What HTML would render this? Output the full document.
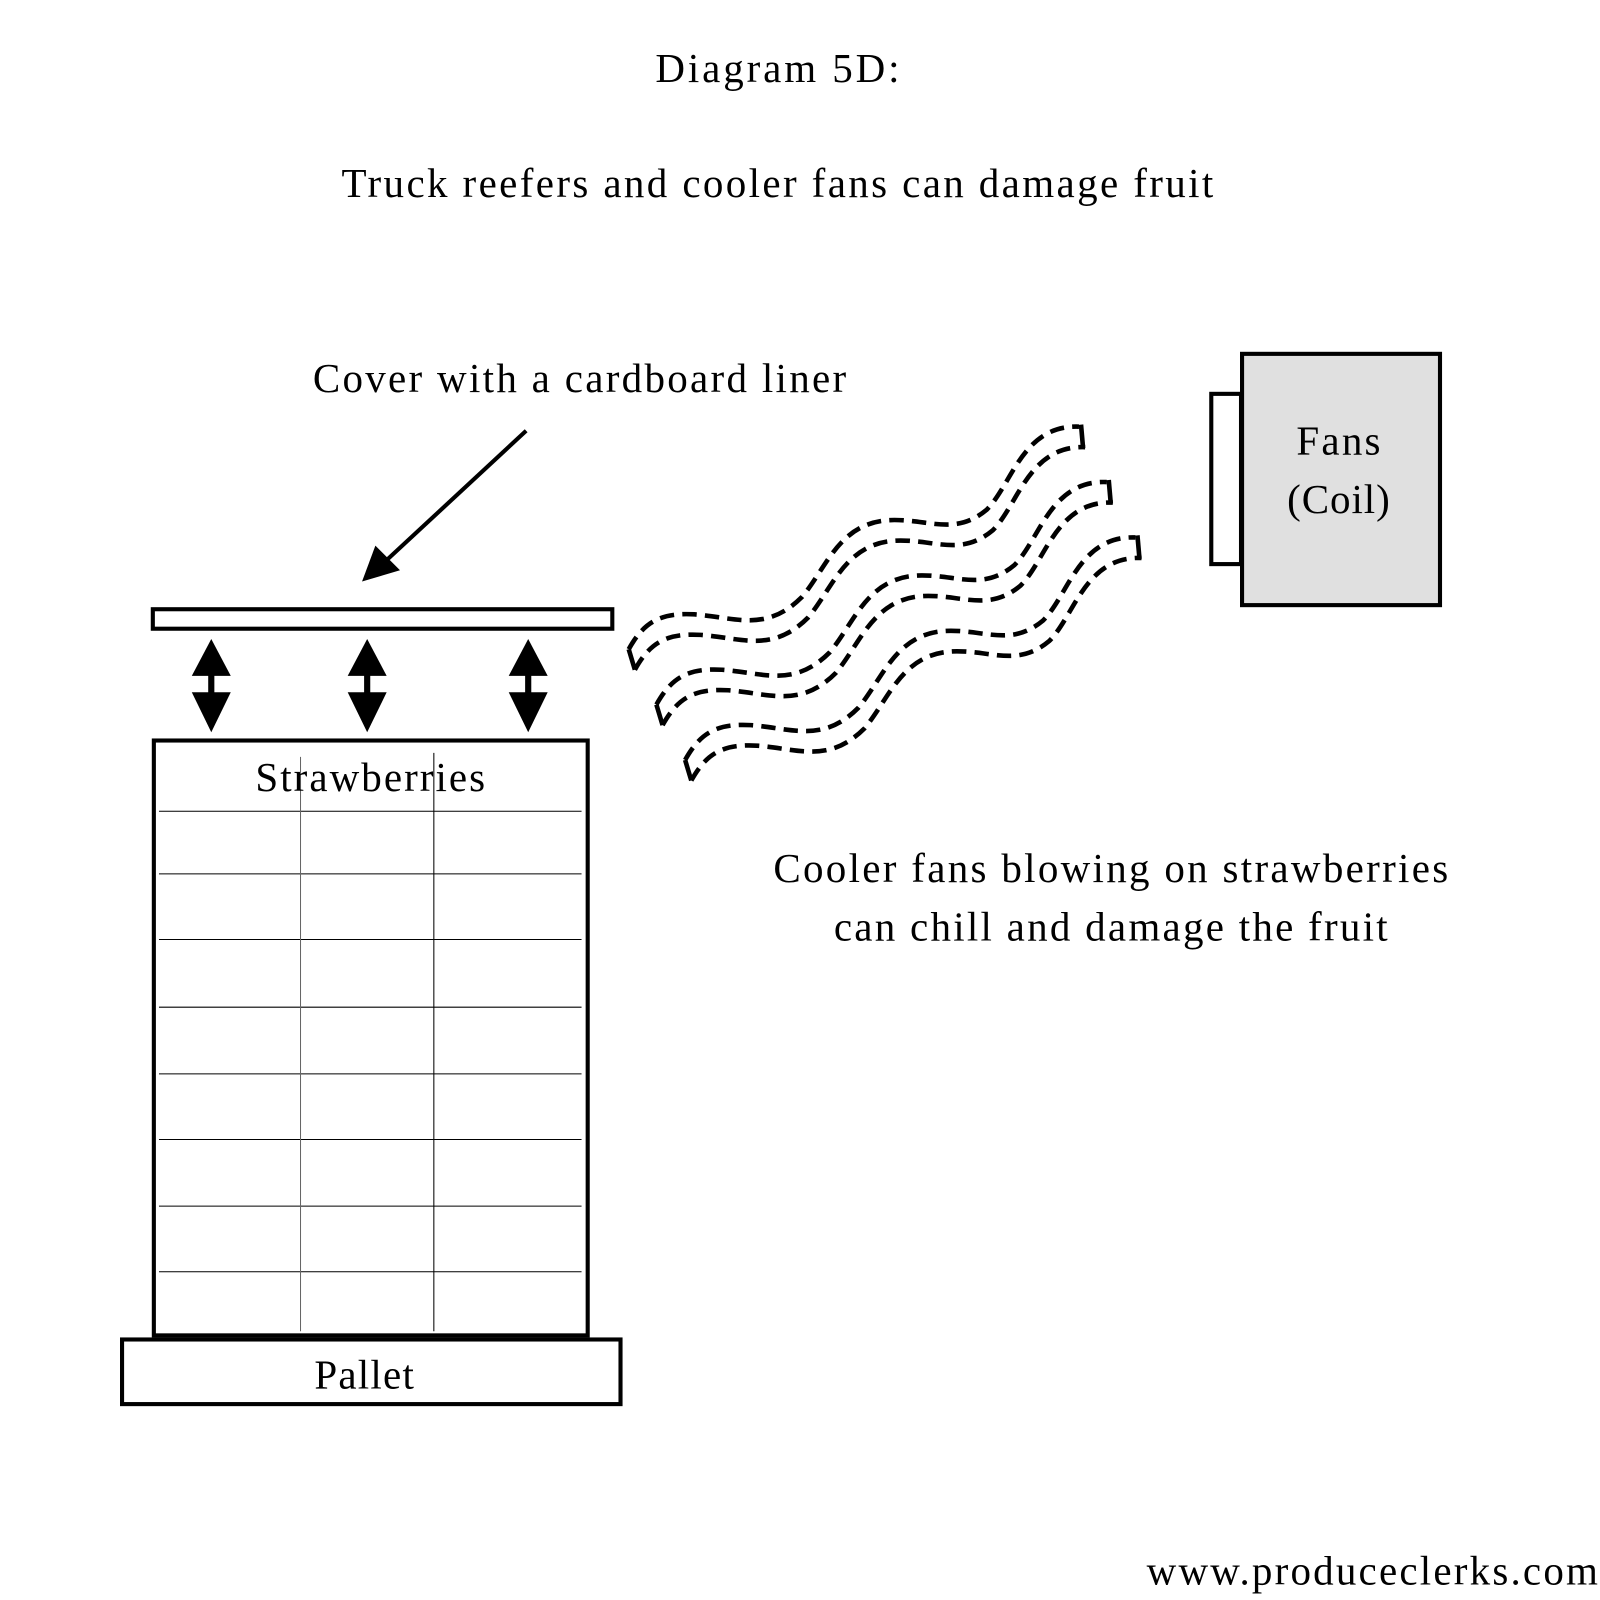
<!DOCTYPE html>
<html><head><meta charset="utf-8"><style>
html,body{margin:0;padding:0;background:#fff;}
svg{display:block;}
text{font-family:"Liberation Serif",serif;fill:#000;}
</style></head><body>
<svg width="1600" height="1600" viewBox="0 0 1560 1560" xmlns="http://www.w3.org/2000/svg">
<rect x="0" y="0" width="1560" height="1560" fill="#fff"/>
<text x="758" y="80" font-size="40" text-anchor="middle" textLength="238">Diagram 5D:</text>
<text x="758" y="192" font-size="40" text-anchor="middle" textLength="850">Truck reefers and cooler fans can damage fruit</text>
<text x="565" y="382" font-size="40" text-anchor="middle" textLength="520">Cover with a cardboard liner</text>
<line x1="513" y1="420" x2="375" y2="548" stroke="#000" stroke-width="4"/>
<polygon points="353,567 366,532 390,556" fill="#000"/>
<rect x="149" y="594" width="448" height="19" fill="#fff" stroke="#000" stroke-width="4"/>
<g fill="#000">
<g id="da"><polygon points="206,623 187,659 225,659"/><rect x="203" y="658" width="6" height="18"/><polygon points="187,675 225,675 206,714"/></g>
<use href="#da" transform="translate(152,0)"/>
<use href="#da" transform="translate(309,0)"/>
</g>
<rect x="150" y="722" width="423" height="580" fill="none" stroke="#000" stroke-width="4"/>
<g stroke="#000" stroke-width="1">
<line x1="155" y1="791" x2="567" y2="791"/><line x1="155" y1="852" x2="567" y2="852"/>
<line x1="155" y1="916" x2="567" y2="916"/><line x1="155" y1="982" x2="567" y2="982"/>
<line x1="155" y1="1047" x2="567" y2="1047"/><line x1="155" y1="1111" x2="567" y2="1111"/>
<line x1="155" y1="1176" x2="567" y2="1176"/><line x1="155" y1="1240" x2="567" y2="1240"/>
<line x1="293" y1="738" x2="293" y2="1298" stroke="#666"/><line x1="423" y1="734" x2="423" y2="1298"/>
</g>
<text x="361" y="771" font-size="40" text-anchor="middle" textLength="224">Strawberries</text>
<rect x="119" y="1306" width="486" height="63" fill="#fff" stroke="#000" stroke-width="4"/>
<text x="355" y="1354" font-size="40" text-anchor="middle" textLength="97">Pallet</text>
<rect x="1181" y="384" width="29" height="166" fill="#fff" stroke="#000" stroke-width="4"/>
<rect x="1211" y="345" width="193" height="245" fill="#e0e0e0" stroke="#000" stroke-width="4"/>
<text x="1305" y="443" font-size="40" text-anchor="middle" textLength="82">Fans</text>
<text x="1305" y="500" font-size="40" text-anchor="middle" textLength="100">(Coil)</text>
<text x="1083" y="860" font-size="40" text-anchor="middle" textLength="658">Cooler fans blowing on strawberries</text>
<text x="1083" y="917" font-size="40" text-anchor="middle" textLength="540">can chill and damage the fruit</text>
<text x="1558" y="1545" font-size="40" text-anchor="end" textLength="440">www.produceclerks.com</text>
<g id="wave" fill="none" stroke="#000" stroke-width="4.5">
<path transform="translate(-3,-10)" stroke-dasharray="14 8" d="M 616,643 C 630,618 645,607 680,609 C 720,612 750,627 785,592 C 810,562 822,517 875,517 C 910,517 935,532 965,507 C 990,482 1000,424 1055,426"/>
<path transform="translate(3,10)" stroke-dasharray="14 8" d="M 616,643 C 630,618 645,607 680,609 C 720,612 750,627 785,592 C 810,562 822,517 875,517 C 910,517 935,532 965,507 C 990,482 1000,424 1055,426"/>
<line x1="613" y1="633" x2="619" y2="653" transform="translate(0,0)"/>
<line x1="1054" y1="414" x2="1056" y2="437"/>
</g>
<use href="#wave" transform="translate(27,54)"/>
<use href="#wave" transform="translate(55,108)"/>
</svg>
</body></html>
